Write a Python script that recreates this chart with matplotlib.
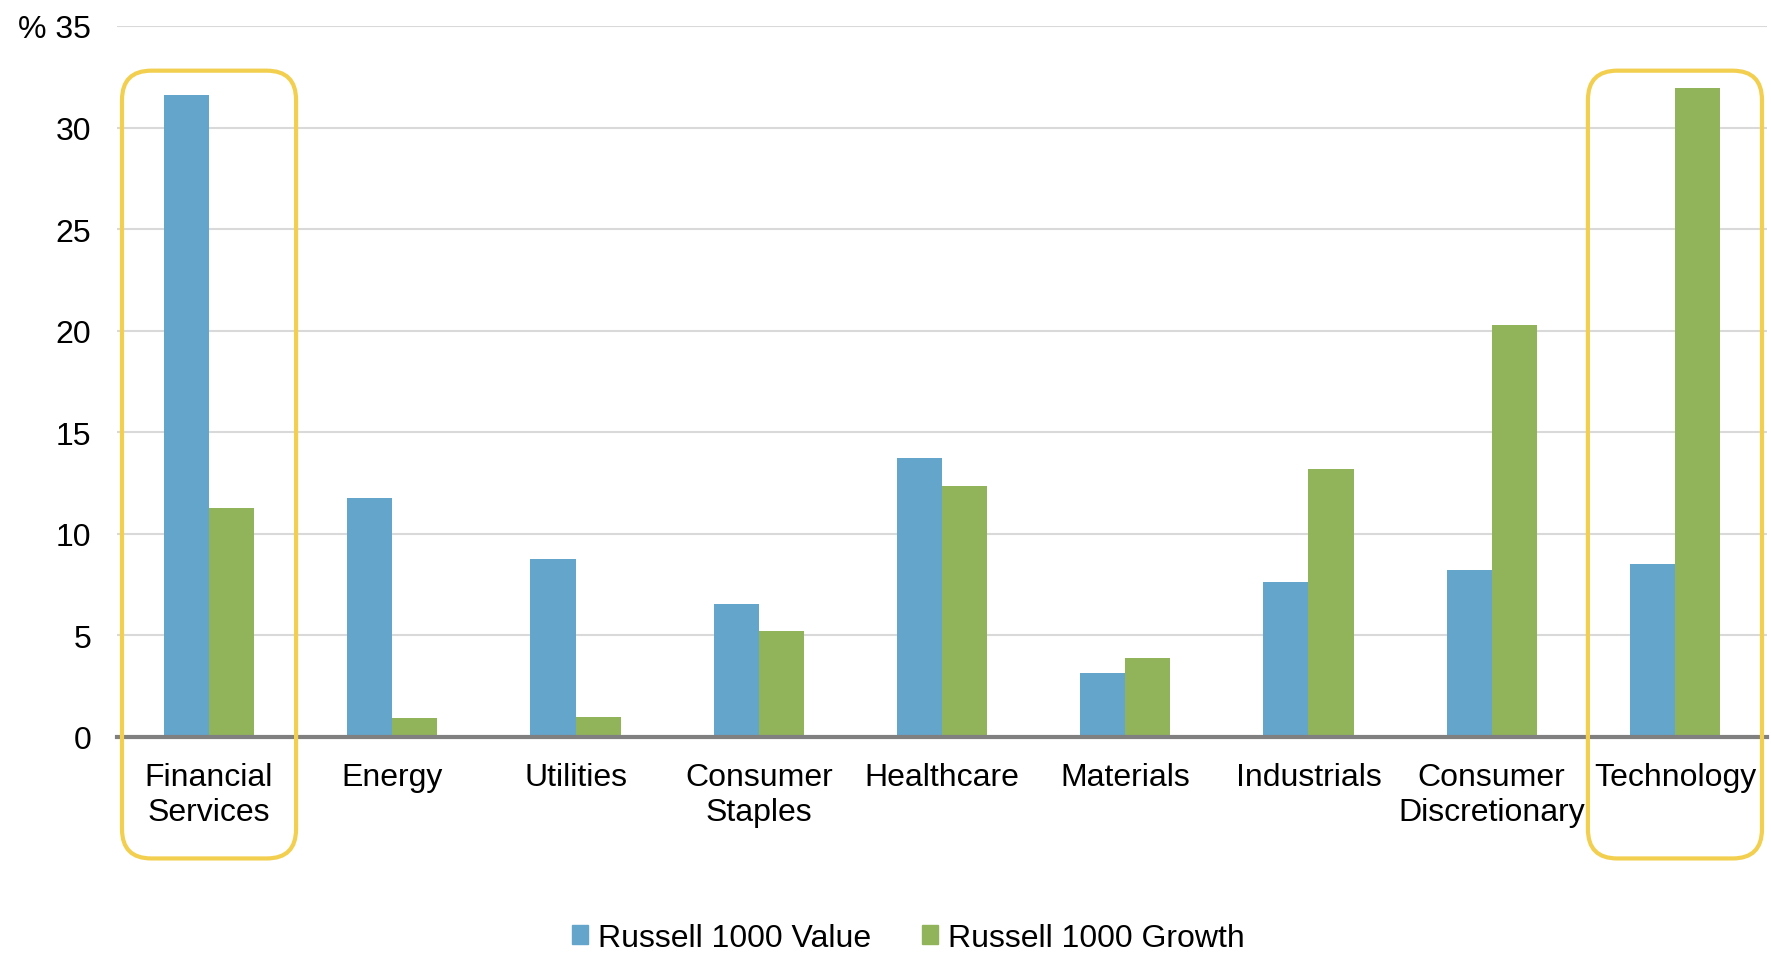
import matplotlib.pyplot as plt
import numpy as np
from matplotlib.patches import FancyBboxPatch, Patch

# sector weights (%)
sectors = ['Financial\nServices', 'Energy', 'Utilities', 'Consumer\nStaples', 'Healthcare',
           'Materials', 'Industrials', 'Consumer\nDiscretionary', 'Technology']
value = [31.6, 11.75, 8.75, 6.55, 13.7, 3.15, 7.6, 8.2, 8.5]
growth = [11.25, 0.9, 0.95, 5.2, 12.35, 3.85, 13.2, 20.25, 31.95]
yticks = [0, 5, 10, 15, 20, 25, 30, 35]
ytick_labels = ['0', '5', '10', '15', '20', '25', '30', '% 35']
highlight = [0, 8]  # boxed sectors

blue = '#64a5cc'
green = '#91b45b'
yellow = '#f3cf4f'
fs = 23

plt.rcParams['font.family'] = ['Liberation Sans', 'DejaVu Sans']

fig = plt.figure(figsize=(17.71, 9.54), dpi=100)
ax = fig.add_axes([0.0663, 0.2268, 0.9312, 0.7449])

x = np.arange(len(sectors))
w = 0.246
ax.bar(x - w/2, value, w, color=blue, zorder=3, label='Russell 1000 Value')
ax.bar(x + w/2, growth, w, color=green, zorder=3, label='Russell 1000 Growth')

ax.set_xlim(-0.5, len(sectors) - 0.5)
ax.set_ylim(0, 35)
ax.set_yticks(yticks)
ax.set_yticklabels(ytick_labels, fontsize=fs)
ax.set_xticks(x)
ax.set_xticklabels(sectors, fontsize=fs, linespacing=1.25)
ax.tick_params(axis='both', length=0)
ax.tick_params(axis='y', pad=19)
ax.tick_params(axis='x', pad=18)

ax.yaxis.grid(True, color='#d9d9d9', linewidth=1.5, zorder=0)
for s in ['top', 'right', 'left']:
    ax.spines[s].set_visible(False)
ax.spines['bottom'].set_color('#808080')
ax.spines['bottom'].set_linewidth(3)
ax.spines['bottom'].set_zorder(4)

# rounded highlight boxes, circular corners via aspect of the data transform
p0 = ax.transData.transform((0, 0))
p1 = ax.transData.transform((1, 1))
aspect = (p1[0] - p0[0]) / (p1[1] - p0[1])
for i in highlight:
    box = FancyBboxPatch((i - 0.475, -6.0), 0.95, 38.8,
                         boxstyle='round,pad=0,rounding_size=0.16',
                         mutation_aspect=aspect,
                         fill=False, edgecolor=yellow, linewidth=3,
                         clip_on=False, zorder=5)
    ax.add_patch(box)

handles = [Patch(color=blue, label='Russell 1000 Value'),
           Patch(color=green, label='Russell 1000 Growth')]
fig.legend(handles=handles, loc='lower center', bbox_to_anchor=(0.513, -0.03),
           ncol=2, frameon=False, fontsize=fs, handlelength=0.5, handleheight=0.5,
           handletextpad=0.3, columnspacing=1.6)

fig.savefig('out.png', dpi=100)
